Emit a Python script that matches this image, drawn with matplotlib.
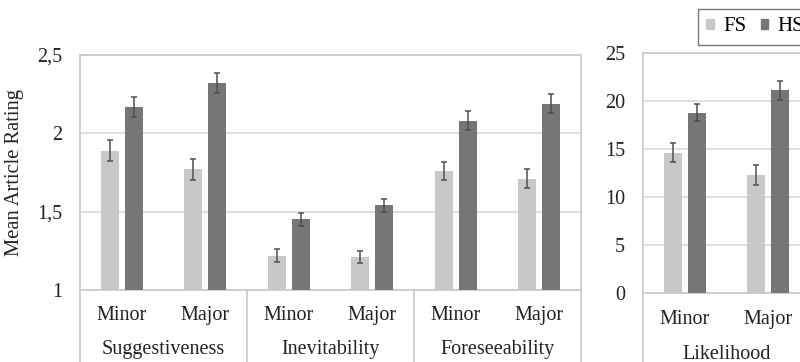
import numpy as np
import matplotlib.pyplot as plt
from matplotlib.patches import Patch

plt.rcParams['font.family'] = ['Liberation Serif', 'DejaVu Serif']

# article ratings, three measures x two severities
groups = ['Suggestiveness', 'Inevitability', 'Foreseeability']
levels = ['Minor', 'Major']
fs_mean = [1.89, 1.77, 1.22, 1.21, 1.76, 1.71]
fs_err = [0.065, 0.065, 0.04, 0.04, 0.06, 0.06]
hs_mean = [2.17, 2.32, 1.45, 1.54, 2.08, 2.19]
hs_err = [0.065, 0.065, 0.04, 0.04, 0.06, 0.06]
rating_ticks = [1, 1.5, 2, 2.5]
rating_labels = ['1', '1,5', '2', '2,5']

# likelihood estimates
lik_group = 'Likelihood'
lik_fs_mean = [14.6, 12.3]
lik_fs_err = [1.0, 1.0]
lik_hs_mean = [18.8, 21.1]
lik_hs_err = [0.9, 1.0]
lik_ticks = [0, 5, 10, 15, 20, 25]

FS_COL = '#c8c8c8'
HS_COL = '#767676'
ERR_COL = '#505050'
GRID_COL = '#d9d9d9'
LINE_COL = '#c8c8c8'
TXT_COL = '#222222'

W, H = 800, 362
fig = plt.figure(figsize=(W / 100, H / 100), dpi=100)


def px_axes(x0, y0, x1, y1):
    return fig.add_axes([x0 / W, 1 - y1 / H, (x1 - x0) / W, (y1 - y0) / H])


def draw_bars(ax, fs, fse, hs, hse):
    x = np.arange(len(fs))
    w, off = 0.216, 0.144
    ekw = dict(ecolor=ERR_COL, elinewidth=1.1, capsize=2.3, capthick=1.1)
    ax.bar(x - off, fs, w, yerr=fse, color=FS_COL, error_kw=ekw, zorder=3)
    ax.bar(x + off, hs, w, yerr=hse, color=HS_COL, error_kw=ekw, zorder=3)
    ax.set_xlim(-0.5, len(fs) - 0.5)
    ax.set_xticks([])
    ax.yaxis.grid(True, color=GRID_COL, linewidth=1.2, zorder=0)
    ax.tick_params(axis='y', length=0, pad=13, labelsize=14.5, labelcolor=TXT_COL)
    for s in ax.spines.values():
        s.set_color(LINE_COL)
        s.set_linewidth(1.2)
    tr = ax.get_xaxis_transform()
    for i in range(len(fs)):
        ax.text(i, -0.11, levels[i % 2], transform=tr, ha='center', va='center',
                fontsize=14.5, color=TXT_COL)
    return tr


def draw_groups(ax, tr, names, ybot):
    n = len(names)
    for k in range(n + 1):
        ax.plot([2 * k - 0.5, 2 * k - 0.5], [0, ybot], transform=tr,
                color=LINE_COL, linewidth=1.2, clip_on=False)
    for k, name in enumerate(names):
        ax.text(2 * k + 0.5, -0.255, name, transform=tr, ha='center', va='center',
                fontsize=14.5, color=TXT_COL)


ax1 = px_axes(80, 55, 581, 290)
tr1 = draw_bars(ax1, fs_mean, fs_err, hs_mean, hs_err)
ax1.set_ylim(1, 2.5)
ax1.set_yticks(rating_ticks, rating_labels)
draw_groups(ax1, tr1, groups, -0.32)
ax1.set_ylabel('Mean Article Rating', fontsize=14.8, color=TXT_COL, labelpad=9)

ax2 = px_axes(643, 53, 810, 293)
tr2 = draw_bars(ax2, lik_fs_mean, lik_fs_err, lik_hs_mean, lik_hs_err)
ax2.set_ylim(0, 25)
ax2.set_yticks(lik_ticks)
draw_groups(ax2, tr2, [lik_group], -0.32)

handles = [Patch(color=FS_COL, label='FS'), Patch(color=HS_COL, label='HS')]
leg = fig.legend(handles=handles, loc='upper left', bbox_to_anchor=(698 / W, 1 - 9 / H),
                 ncol=2, fontsize=15, frameon=True, fancybox=False,
                 handlelength=0.35, handleheight=0.35, handletextpad=0.45,
                 columnspacing=0.7, borderpad=0.4, borderaxespad=0)
leg.get_frame().set_edgecolor('#555555')
leg.get_frame().set_linewidth(1.0)

fig.savefig('out.png', dpi=100)
